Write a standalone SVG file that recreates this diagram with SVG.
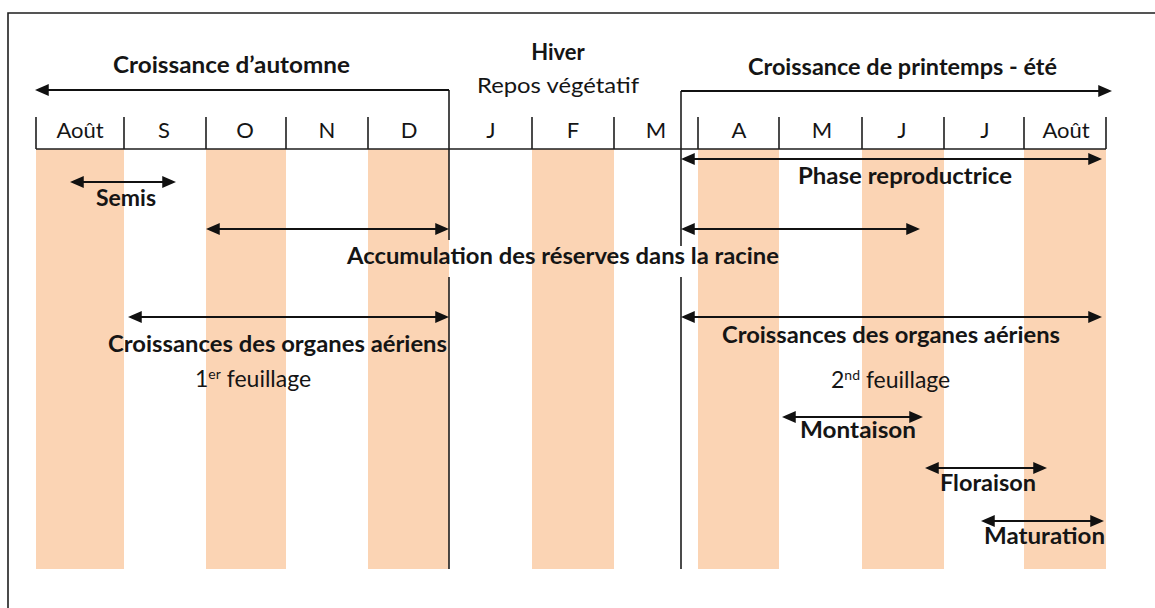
<svg xmlns="http://www.w3.org/2000/svg" width="1155" height="608" viewBox="0 0 1155 608">
  <style>
    text { font-family: Lato, "Open Sans", "Liberation Sans", sans-serif; font-size: 22px; fill: #151515; }
    .b { font-weight: bold; }
    .m { text-anchor: middle; }
    .f { font-size: 23px; }
    .shade { fill: #FBD4B4; }
    .ln { stroke: #1e1e1e; stroke-width: 1.6; fill: none; }
    .arr { stroke: #111; stroke-width: 2; fill: none; marker-end: url(#ah); }
    .dbl { stroke: #111; stroke-width: 2; fill: none; marker-start: url(#ah); marker-end: url(#ah); }
  </style>
  <defs>
    <marker id="ah" markerUnits="userSpaceOnUse" markerWidth="14" markerHeight="12" refX="10" refY="5.5" orient="auto-start-reverse" viewBox="0 0 13 11">
      <path d="M0,0 L13,5.5 L0,11 Z" fill="#111"/>
    </marker>
  </defs>
  <rect width="1155" height="608" fill="#fff"/>

  <g id="frame">
    <path class="ln" d="M8,608 L8,13 L1155,13"/>
  </g>

  <g id="bands">
    <rect class="shade" x="36" y="149" width="88" height="420"/>
    <rect class="shade" x="206" y="149" width="80" height="420"/>
    <rect class="shade" x="368" y="149" width="81" height="420"/>
    <rect class="shade" x="532" y="149" width="82" height="420"/>
    <rect class="shade" x="698" y="149" width="81" height="420"/>
    <rect class="shade" x="862" y="149" width="82" height="420"/>
    <rect class="shade" x="1024" y="149" width="82" height="420"/>
  </g>

  <g id="axis">
    <path class="ln" d="M36,149 L1106,149"/>
    <path class="ln" d="M36,117 V149 M124,117 V149 M206,117 V149 M286,117 V149 M368,117 V149 M532,117 V149 M614,117 V149 M698,117 V149 M779,117 V149 M862,117 V149 M944,117 V149 M1024,117 V149 M1106,117 V149"/>
    <text class="m" x="80" y="138">Août</text>
    <text class="m" x="164" y="138">S</text>
    <text class="m" x="245" y="138">O</text>
    <text class="m" x="327" y="138">N</text>
    <text class="m" x="409" y="138">D</text>
    <text class="m" x="491" y="138">J</text>
    <text class="m" x="573" y="138">F</text>
    <text class="m" x="656" y="138">M</text>
    <text class="m" x="739" y="138">A</text>
    <text class="m" x="822" y="138">M</text>
    <text class="m" x="902" y="138">J</text>
    <text class="m" x="985" y="138">J</text>
    <text class="m" x="1066" y="138">Août</text>
  </g>

  <g id="season-autumn">
    <text class="b" x="113" y="73" textLength="237" lengthAdjust="spacingAndGlyphs">Croissance d’automne</text>
  </g>
  <g id="season-winter">
    <text class="b m" x="558" y="60">Hiver</text>
    <text x="477" y="93" textLength="162" lengthAdjust="spacingAndGlyphs">Repos végétatif</text>
  </g>
  <g id="season-spring">
    <text class="b" x="748" y="75" textLength="309" lengthAdjust="spacingAndGlyphs">Croissance de printemps - été</text>
  </g>
  <g id="phase-reproductrice">
    <text class="b" x="798" y="184" textLength="214" lengthAdjust="spacingAndGlyphs">Phase reproductrice</text>
  </g>
  <g id="semis">
    <text class="b" x="96" y="206" textLength="60" lengthAdjust="spacingAndGlyphs">Semis</text>
  </g>
  <g id="accumulation">
    <text class="b" x="347" y="264" textLength="432" lengthAdjust="spacingAndGlyphs">Accumulation des réserves dans la racine</text>
  </g>
  <g id="croissance-1">
    <text class="b" x="108" y="352" textLength="339" lengthAdjust="spacingAndGlyphs">Croissances des organes aériens</text>
    <text class="f" x="195" y="387">1<tspan font-size="14" dy="-8">er</tspan><tspan dy="8"> feuillage</tspan></text>
  </g>
  <g id="croissance-2">
    <text class="b" x="722" y="343" textLength="338" lengthAdjust="spacingAndGlyphs">Croissances des organes aériens</text>
    <text class="f" x="831" y="388">2<tspan font-size="14" dy="-8">nd</tspan><tspan dy="8"> feuillage</tspan></text>
  </g>
  <g id="montaison">
    <text class="b" x="800" y="438" textLength="116" lengthAdjust="spacingAndGlyphs">Montaison</text>
  </g>
  <g id="floraison">
    <text class="b" x="940" y="491" textLength="96" lengthAdjust="spacingAndGlyphs">Floraison</text>
  </g>
  <g id="maturation">
    <text class="b" x="984" y="544" textLength="121" lengthAdjust="spacingAndGlyphs">Maturation</text>
  </g>

  <g id="connectors">
    <path class="ln" d="M449,90 V240 M449,277 V569"/>
    <path class="ln" d="M681,91 V246 M681,277 V569"/>
    <path class="arr" d="M449,90 H38"/>
    <path class="arr" d="M681,91 H1109"/>
    <path class="dbl" d="M684,159 H1099"/>
    <path class="dbl" d="M73,182 H173"/>
    <path class="dbl" d="M209,229 H446"/>
    <path class="dbl" d="M684,229 H917"/>
    <path class="dbl" d="M131,317 H446"/>
    <path class="dbl" d="M684,317 H1099"/>
    <path class="dbl" d="M785,417 H920"/>
    <path class="dbl" d="M928,468 H1044"/>
    <path class="dbl" d="M984,521 H1101"/>
  </g>
</svg>
